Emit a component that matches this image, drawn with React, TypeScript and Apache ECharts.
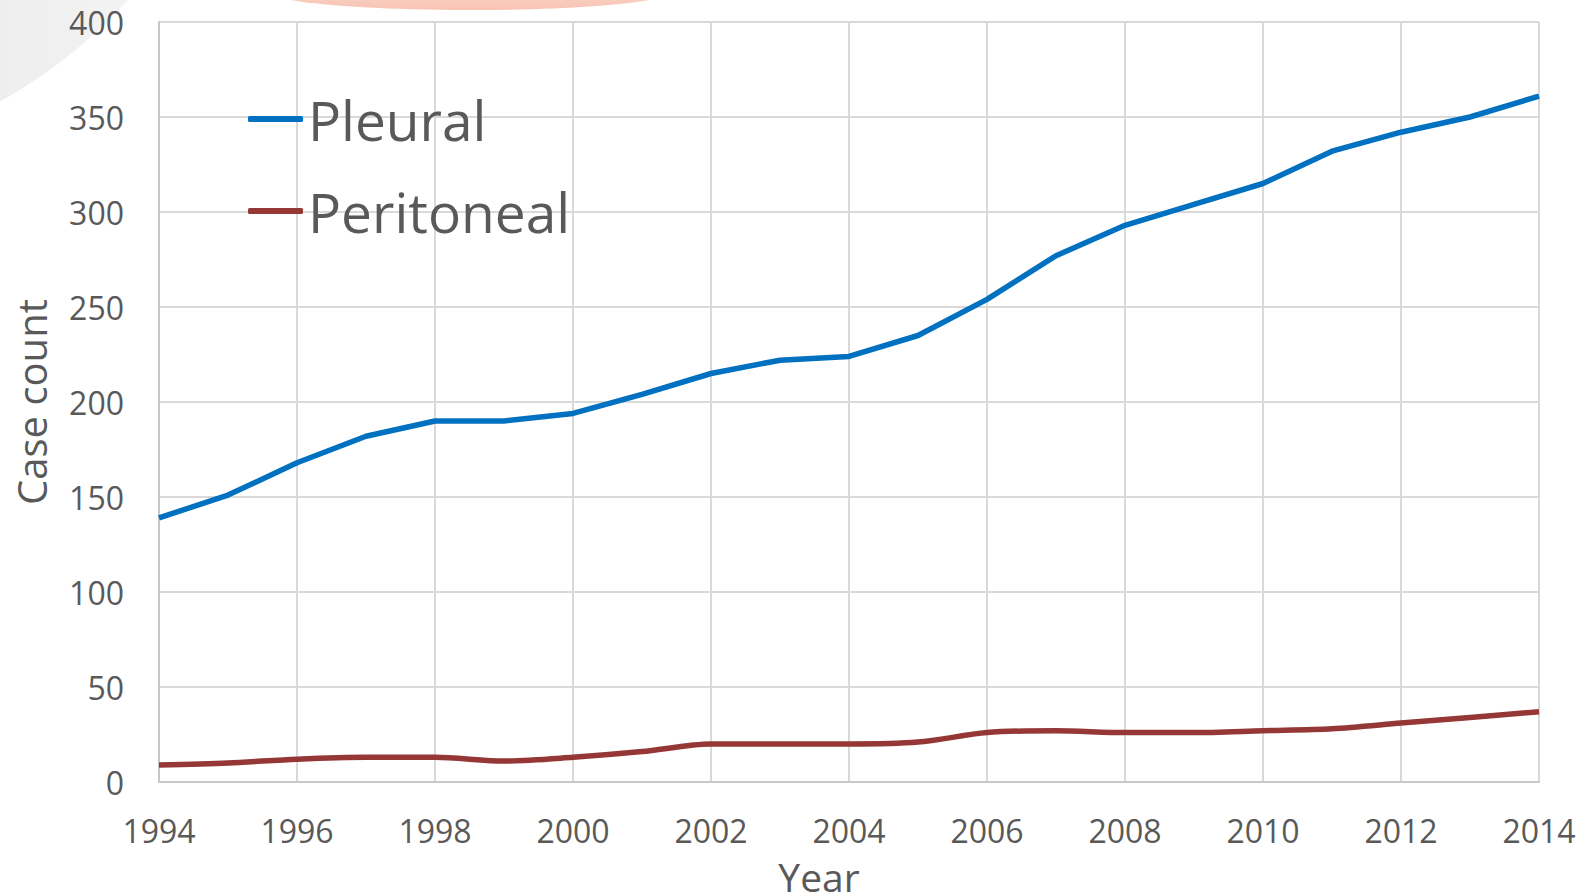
import React, { useEffect, useRef } from "react";
import * as echarts from "echarts";

const years = [1994, 1995, 1996, 1997, 1998, 1999, 2000, 2001, 2002, 2003, 2004, 2005, 2006, 2007, 2008, 2009, 2010, 2011, 2012, 2013, 2014];
const pleural = [139, 151, 168, 182, 190, 190, 194, 204, 215, 222, 224, 235, 254, 277, 293, 304, 315, 332, 342, 350, 361];
const peritoneal = [9, 10, 12, 13, 13, 11, 13, 16, 20, 20, 20, 21, 26, 27, 26, 26, 27, 28, 31, 34, 37];
const seriesNames = ["Pleural", "Peritoneal"];
const xTitle = "Year";
const yTitle = "Case count";

const FONT = "'Open Sans', 'Noto Sans', sans-serif";
const TEXT = "#595959";

export default function App() {
  const ref = useRef<HTMLDivElement>(null);
  useEffect(() => {
    document.body.style.margin = "0";
    if (!ref.current) return;
    const chart = echarts.init(ref.current, undefined, { renderer: "svg", width: 1590, height: 896 });
    chart.setOption({
      animation: false,
      backgroundColor: "#ffffff",
      graphic: [
        {
          type: "circle",
          shape: { cx: -230, cy: -320, r: 480 },
          style: {
            fill: new echarts.graphic.LinearGradient(0, 0, 1, 0, [
              { offset: 0, color: "#dcdcdc" },
              { offset: 0.5, color: "#e6e6e6" },
              { offset: 1, color: "#f7f7f7" },
            ]),
          },
          z: -10,
        },
        {
          type: "ellipse",
          shape: { cx: 470, cy: -8, rx: 200, ry: 18 },
          style: {
            fill: new echarts.graphic.LinearGradient(0, 0, 0, 1, [
              { offset: 0, color: "#fde3da" },
              { offset: 1, color: "#f7c3b2" },
            ]),
          },
          z: -10,
        },
        {
          type: "text",
          x: 819,
          y: 876,
          style: {
            text: xTitle,
            fontFamily: FONT,
            fontSize: 39,
            lineHeight: 39,
            fill: TEXT,
            textAlign: "center",
            textVerticalAlign: "middle",
          },
        },
      ],
      grid: { left: 159, top: 22, width: 1380, height: 760, containLabel: false },
      legend: {
        orient: "vertical",
        left: 243,
        top: 84,
        itemGap: 32,
        itemWidth: 55,
        itemHeight: 6,
        icon: "roundRect",
        data: seriesNames,
        textStyle: { fontFamily: FONT, fontSize: 55, color: TEXT, lineHeight: 60, padding: [0, 0, 0, 0] },
      },
      xAxis: {
        type: "value",
        min: 1994,
        max: 2014,
        interval: 2,
        axisLine: { show: true, lineStyle: { color: "#c8c8c8", width: 2 } },
        axisTick: { show: false },
        axisLabel: {
          formatter: (v: number) => String(v),
          fontFamily: FONT,
          fontSize: 32,
          color: TEXT,
          margin: 32,
        },
        splitLine: { show: true, lineStyle: { color: "#d9d9d9", width: 2 } },
      },
      yAxis: {
        type: "value",
        min: 0,
        max: 400,
        interval: 50,
        name: yTitle,
        nameLocation: "middle",
        nameRotate: 90,
        nameGap: 108,
        nameTextStyle: { fontFamily: FONT, fontSize: 40, color: TEXT },
        axisLine: { show: true, lineStyle: { color: "#c8c8c8", width: 2 } },
        axisTick: { show: false },
        axisLabel: { fontFamily: FONT, fontSize: 32, color: TEXT, margin: 35 },
        splitLine: { show: true, lineStyle: { color: "#d9d9d9", width: 2 } },
      },
      series: [
        {
          name: seriesNames[0],
          type: "line",
          data: years.map((y, i) => [y, pleural[i]]),
          symbol: "none",
          lineStyle: { color: "#0070C0", width: 5.5 },
          itemStyle: { color: "#0070C0" },
          z: 3,
        },
        {
          name: seriesNames[1],
          type: "line",
          data: years.map((y, i) => [y, peritoneal[i]]),
          symbol: "none",
          smooth: 0.3,
          lineStyle: { color: "#953735", width: 5.5 },
          itemStyle: { color: "#953735" },
          z: 3,
        },
      ],
    });
    return () => chart.dispose();
  }, []);
  return (
    <div
      ref={ref}
      style={{ position: "fixed", left: 0, top: 0, width: 1590, height: 896 }}
    />
  );
}
